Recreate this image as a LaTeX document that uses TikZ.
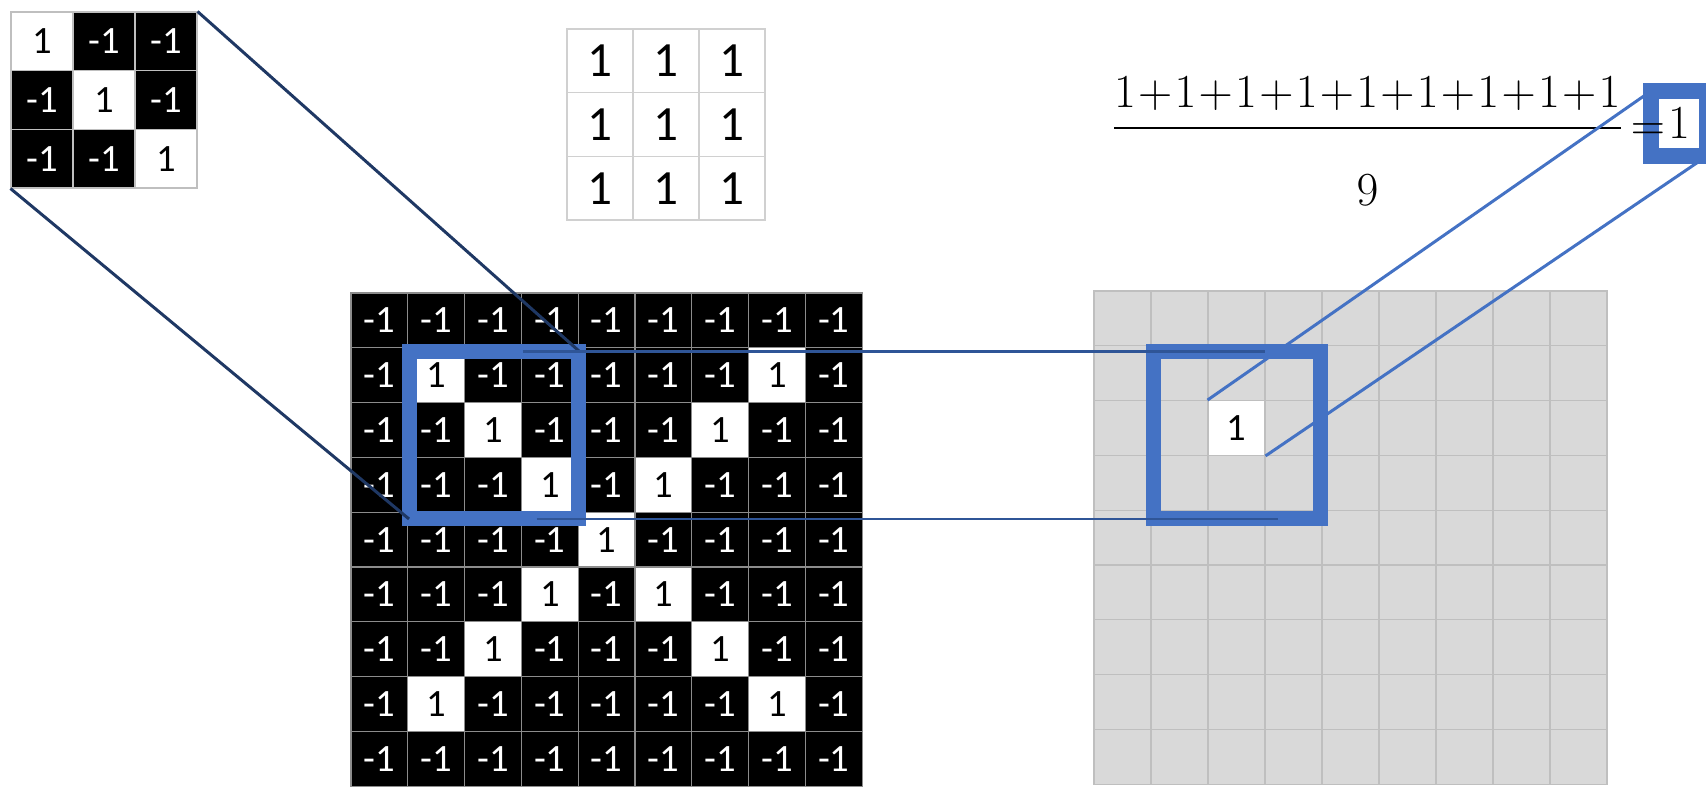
\documentclass[tikz,border=0pt]{standalone}
\usepackage{amsmath}
\usepackage{graphicx}
\usepackage{fontspec}
\usepackage{xcolor}
\usetikzlibrary{calc}
\newfontfamily\CellFont{Carlito}
\definecolor{WindowBlue}{HTML}{4472C4}
\definecolor{LinkNavy}{HTML}{1F3864}
\definecolor{BeamBlue}{HTML}{2F5597}
\definecolor{CellRule}{HTML}{8C8C8C}
\definecolor{PaleRule}{HTML}{D0D0D0}
\definecolor{MapFill}{HTML}{D9D9D9}
\definecolor{MapRule}{HTML}{BFBFBF}
\newcommand{\EqMath}[1]{\scalebox{1.085}{\fontsize{24.88}{30}\selectfont$#1$}}
\newcommand{\TightPlus}{\mkern0.9mu{+}\mkern0.9mu}
\tikzset{
  figure/.style={x=0.02cm,y=-0.02cm},
  gridcell/.style={inner sep=0pt,draw=CellRule,line width=0.6pt,
    font=\CellFont\fontsize{22}{26}\selectfont},
  darkcell/.style={gridcell,fill=black,text=white},
  lightcell/.style={gridcell,fill=white,text=black},
  kcell/.style={draw=MapRule,minimum width=1.24cm,minimum height=1.173cm},
  bcell/.style={minimum width=1.136cm,minimum height=1.096cm},
  onescell/.style={gridcell,draw=PaleRule,fill=white,
    font=\CellFont\fontsize{28}{32}\selectfont,minimum width=1.32cm,minimum height=1.273cm},
  mapcell/.style={gridcell,draw=MapRule,fill=MapFill,minimum width=1.14cm,minimum height=1.096cm},
  window/.style={draw=WindowBlue,line width=0.3cm,inner sep=0pt,outer sep=0pt},
  link/.style={draw=LinkNavy,line width=1.7pt},
  beam/.style={draw=BeamBlue,line width=1.7pt},
  ray/.style={draw=WindowBlue,line width=1.7pt},
}

\begin{document}
\begin{tikzpicture}[figure]
  \useasboundingbox (0,0) rectangle (1706,788);

  \foreach \r in {1,2,3}{
    \foreach \c in {1,2,3}{
      \ifnum\r=\c
        \node[lightcell,kcell] (K\r\c) at ({11+(\c-0.5)*62},{12+(\r-0.5)*58.67}) {1};
      \else
        \node[darkcell,kcell] (K\r\c) at ({11+(\c-0.5)*62},{12+(\r-0.5)*58.67}) {-1};
      \fi
    }
  }

  \foreach \r in {1,2,3}{
    \foreach \c in {1,2,3}{
      \node[onescell] (A\r\c) at ({567+(\c-0.5)*66},{29+(\r-0.5)*63.67}) {1};
    }
  }

  \foreach \r in {1,...,9}{
    \foreach \c in {1,...,9}{
      \pgfmathtruncatemacro{\lit}{(\r>1)&&(\r<9)&&((\c==\r)||(\c==10-\r))}
      \ifnum\lit=1
        \node[lightcell,bcell] (B\r\c) at ({351+(\c-0.5)*56.8},{293+(\r-0.5)*54.8}) {1};
      \else
        \node[darkcell,bcell] (B\r\c) at ({351+(\c-0.5)*56.8},{293+(\r-0.5)*54.8}) {-1};
      \fi
    }
  }

  \foreach \r in {1,...,9}{
    \foreach \c in {1,...,9}{
      \ifnum\r\c=33
        \node[mapcell,fill=white] (G\r\c) at ({1094+(\c-0.5)*57},{291+(\r-0.5)*54.8}) {1};
      \else
        \node[mapcell] (G\r\c) at ({1094+(\c-0.5)*57},{291+(\r-0.5)*54.8}) {};
      \fi
    }
  }

  \node[window,minimum width=3.4cm,minimum height=3.36cm] (W) at (494,435) {};
  \node[window,minimum width=3.34cm,minimum height=3.36cm] (V) at (1236.5,435) {};

  \node[window,line width=0.32cm,minimum width=1.12cm,minimum height=1.3cm]
    (R) at (1679,123.5) {\EqMath{1}};
  \node[anchor=base,inner sep=0pt] (F) at (1367.5,140)
    {\EqMath{\dfrac{1\TightPlus1\TightPlus1\TightPlus1\TightPlus1\TightPlus1\TightPlus1\TightPlus1\TightPlus1}{\rule{0pt}{1.3cm}9}}};
  \node[anchor=base,inner sep=0pt] (E) at (1648,140) {\EqMath{=}};

  \draw[link] (K13.north east) -- (W.north east);
  \draw[link] (K31.south west) -- (W.south west);
  \draw[beam] ($(W.north west)!0.67!(W.north east)$) -- ($(V.north west)!0.67!(V.north east)$);
  \draw[beam] ($(W.south west)!0.75!(W.south east)$) -- ($(V.south west)!0.75!(V.south east)$);
  \draw[ray] (G33.north west) -- (R.north west);
  \draw[ray] (G33.south east) -- (R.south east);
\end{tikzpicture}
\end{document}
